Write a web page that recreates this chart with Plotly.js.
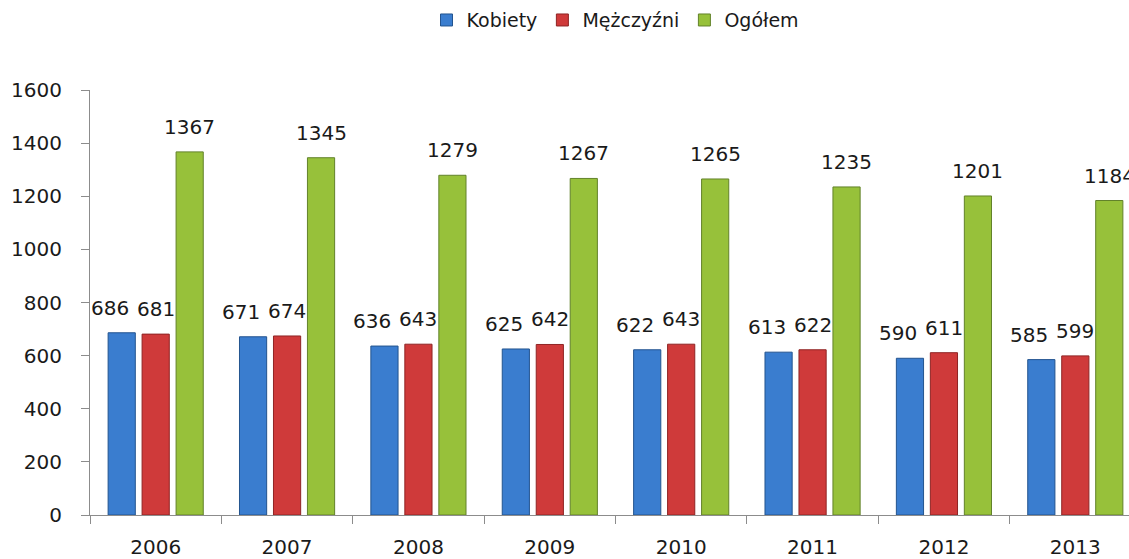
<!DOCTYPE html>
<html>
<head>
<meta charset="utf-8">
<script src="https://cdn.plot.ly/plotly-3.0.1.min.js"></script>
<style>html,body{margin:0;padding:0;background:#fff;overflow:hidden;}#chart{width:1141px;height:559px;}</style>
</head>
<body>
<div id="chart"></div>
<script>
const years = ['2006','2007','2008','2009','2010','2011','2012','2013'];
const kobiety = [686, 671, 636, 625, 622, 613, 590, 585];
const mezczyzni = [681, 674, 643, 642, 643, 622, 611, 599];
const ogolem = [1367, 1345, 1279, 1267, 1265, 1235, 1201, 1184];
const seriesNames = ['Kobiety', 'Mężczyźni', 'Ogółem'];
const colors = ['#3a7dcf', '#cf3a3a', '#97c13a'];
const lines = ['#23548f', '#8f2424', '#62822a'];
const FONT = 'DejaVu Sans, sans-serif';

const W = 1141, H = 559, ML = 90, MR = 0;
const BARGAP = 0.224, BARGROUPGAP = 0.2;
const series = [kobiety, mezczyzni, ogolem];
const labelNudge = [-12, 0, 0];

const data = series.map((vals, i) => ({
  type: 'bar',
  name: seriesNames[i],
  x: years,
  y: vals,
  marker: {color: colors[i], line: {color: lines[i], width: 1}},
  hoverinfo: 'x+y+name'
}));

// value labels placed at each bar's data position (category index), shifted to its slot in the group
const catW = (W - ML - MR) / years.length;
const slot = catW * (1 - BARGAP) / series.length;
const annotations = [];
series.forEach((vals, i) => {
  vals.forEach((v, j) => {
    annotations.push({
      x: j, y: v, xref: 'x', yref: 'y',
      text: String(v), showarrow: false,
      xshift: (i - (series.length - 1) / 2) * slot + labelNudge[i],
      yshift: 25, yanchor: 'middle', xanchor: 'center',
      font: {family: FONT, size: 20, color: '#1a1a1a'}
    });
  });
});

const layout = {
  width: W, height: H,
  margin: {l: ML, r: MR, t: 90, b: 44},
  paper_bgcolor: '#ffffff', plot_bgcolor: '#ffffff',
  barmode: 'group',
  bargap: BARGAP,
  bargroupgap: BARGROUPGAP,
  showlegend: true,
  annotations: annotations,
  legend: {orientation: 'h', x: 0.5, xanchor: 'center', yref: 'container', y: 0.964, yanchor: 'middle',
           font: {family: FONT, size: 19, color: '#1a1a1a'}, itemwidth: 30, tracegroupgap: 0},
  xaxis: {type: 'category', range: [-0.5, years.length - 0.5], tickson: 'boundaries', ticks: 'outside', ticklen: 8,
          tickcolor: '#8c8c8c', showline: true, linecolor: '#8c8c8c', linewidth: 1,
          showgrid: false, zeroline: false, tickangle: 0,
          tickfont: {family: FONT, size: 20, color: '#1a1a1a'}, ticklabelstandoff: 14},
  yaxis: {range: [0, 1600], dtick: 200, tick0: 0, ticks: 'outside', ticklen: 8,
          tickcolor: '#8c8c8c', showline: true, linecolor: '#8c8c8c', linewidth: 1,
          showgrid: false, zeroline: false,
          tickfont: {family: FONT, size: 20, color: '#1a1a1a'}, ticklabelstandoff: 15}
};

Plotly.newPlot('chart', data, layout, {displayModeBar: false, staticPlot: true});
</script>
</body>
</html>
